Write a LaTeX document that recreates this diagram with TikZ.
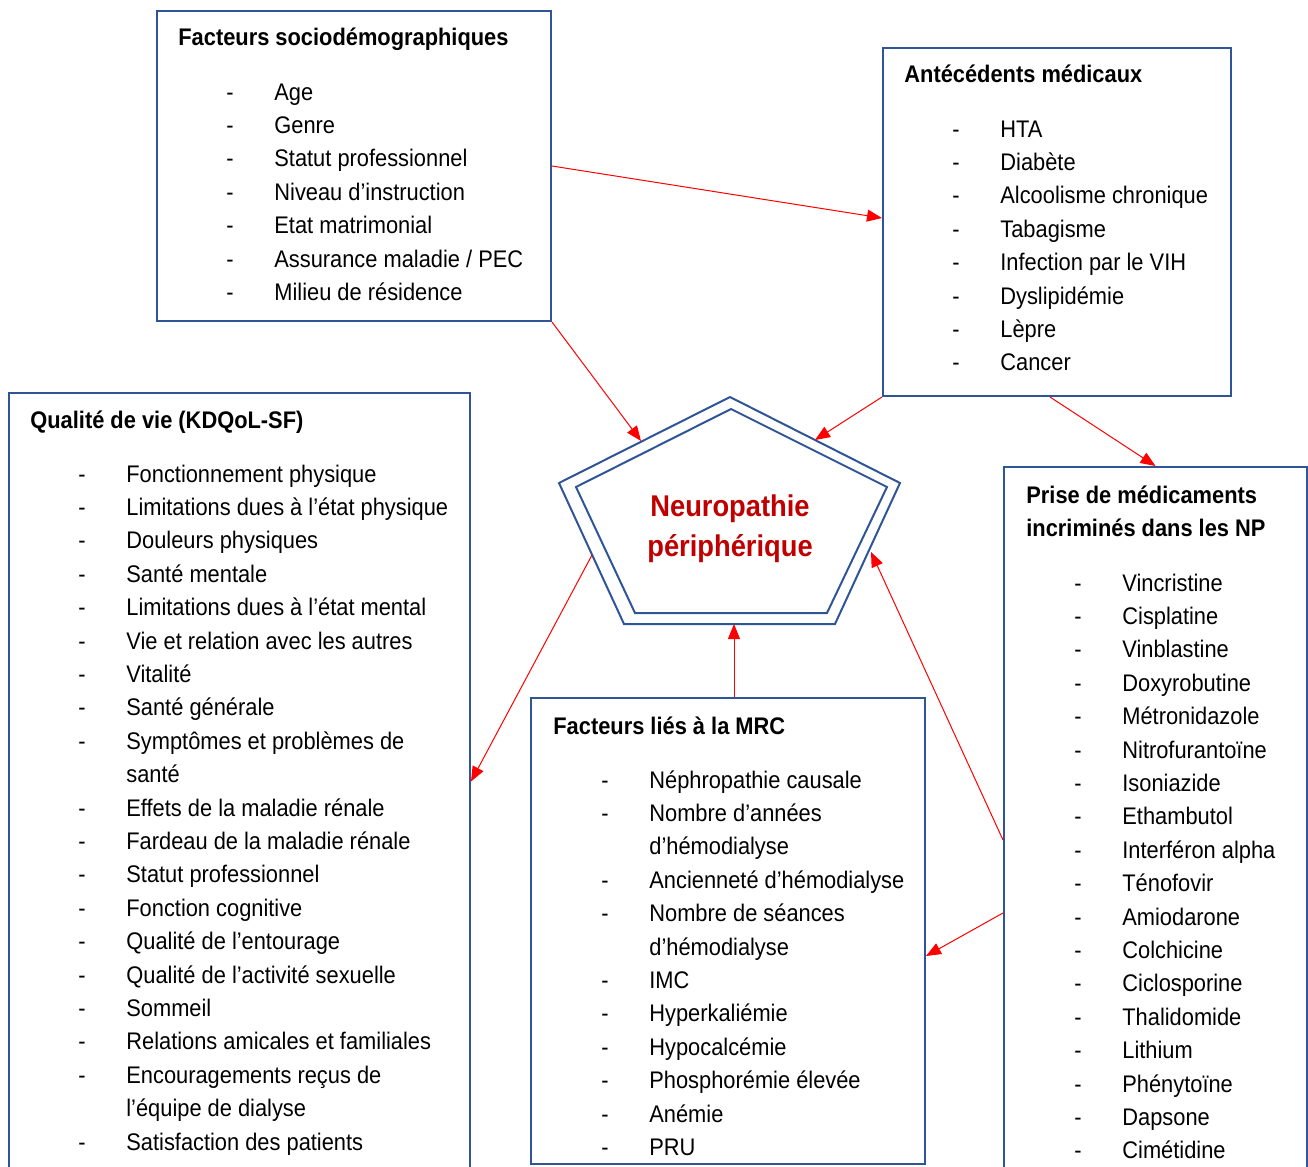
\documentclass[tikz,border=0pt]{standalone}
\usepackage{fontspec}
\setmainfont{Liberation Sans}[FakeStretch=0.91]
\usetikzlibrary{arrows.meta,fit,calc}
\definecolor{boxblue}{RGB}{47,85,151}
\definecolor{titlered}{RGB}{192,0,0}

\begin{document}
\begin{tikzpicture}[x=0.5pt, y=-0.5pt,
  box/.style={draw=boxblue, line width=1pt, inner sep=0pt},
  arr/.style={draw=red, line width=0.5pt, -{Triangle[length=7.5pt,width=6pt]}},
  item/.style={anchor=base west, inner sep=0pt, font=\fontsize{12}{16.7}\selectfont},
  head/.style={anchor=base west, inner sep=0pt, font=\bfseries\fontsize{12}{16.7}\selectfont}]

\useasboundingbox (0,0) rectangle (1308,1167);
\clip (0,0) rectangle (1308,1167);

% Draw the five boxes
\node[box, fit={(157,11) (551,321)}] (socio) {};
\node[box, fit={(883,48) (1231,396)}] (ante) {};
\node[box, fit={(9,393) (470,1170)}] (qual) {};
\node[box, fit={(531,698) (925,1164)}] (mrc) {};
\node[box, fit={(1004,467) (1307,1213)}] (medic) {};

% Box titles
\node[head] (socio-title) at (178,46) {Facteurs sociodémographiques};
\node[head] (ante-title) at (904,83) {Antécédents médicaux};
\node[head] (qual-title) at (30,428) {Qualité de vie (KDQoL-SF)};
\node[head] (mrc-title) at (553,734) {Facteurs liés à la MRC};
\node[head, anchor=west, align=left] (medic-title) at (1026,511.5) {Prise de médicaments\\incriminés dans les NP};

% Lists of factors
\foreach \dsh/\txt [count=\i] in {-/Age, -/Genre, -/Statut professionnel, -/Niveau d’instruction,
    -/Etat matrimonial, -/{Assurance maladie / PEC}, -/Milieu de résidence}
  \node[item] (socio-\i) at (226,{100+33.4*(\i-1)}) {\makebox[24pt][l]{\dsh}\txt};

\foreach \dsh/\txt [count=\i] in {-/HTA, -/Diabète, -/Alcoolisme chronique, -/Tabagisme,
    -/Infection par le VIH, -/Dyslipidémie, -/Lèpre, -/Cancer}
  \node[item] (ante-\i) at (952,{137+33.4*(\i-1)}) {\makebox[24pt][l]{\dsh}\txt};

\foreach \dsh/\txt [count=\i] in {-/Fonctionnement physique, -/Limitations dues à l’état physique,
    -/Douleurs physiques, -/Santé mentale, -/Limitations dues à l’état mental,
    -/Vie et relation avec les autres, -/Vitalité, -/Santé générale,
    -/Symptômes et problèmes de, {}/santé, -/Effets de la maladie rénale,
    -/Fardeau de la maladie rénale, -/Statut professionnel, -/Fonction cognitive,
    -/Qualité de l’entourage, -/Qualité de l’activité sexuelle, -/Sommeil,
    -/Relations amicales et familiales, -/Encouragements reçus de,
    {}/l’équipe de dialyse, -/Satisfaction des patients}
  \node[item] (qual-\i) at (78,{482+33.4*(\i-1)}) {\makebox[24pt][l]{\dsh}\txt};

\foreach \dsh/\txt [count=\i] in {-/Néphropathie causale, -/Nombre d’années, {}/d’hémodialyse,
    -/Ancienneté d’hémodialyse, -/Nombre de séances, {}/d’hémodialyse, -/IMC,
    -/Hyperkaliémie, -/Hypocalcémie, -/Phosphorémie élevée, -/Anémie, -/PRU}
  \node[item] (mrc-\i) at (601,{788+33.4*(\i-1)}) {\makebox[24pt][l]{\dsh}\txt};

\foreach \dsh/\txt [count=\i] in {-/Vincristine, -/Cisplatine, -/Vinblastine, -/Doxyrobutine,
    -/Métronidazole, -/Nitrofurantoïne, -/Isoniazide, -/Ethambutol, -/Interféron alpha,
    -/Ténofovir, -/Amiodarone, -/Colchicine, -/Ciclosporine, -/Thalidomide, -/Lithium,
    -/Phénytoïne, -/Dapsone, -/Cimétidine}
  \node[item] (medic-\i) at (1074,{591+33.4*(\i-1)}) {\makebox[24pt][l]{\dsh}\txt};

% Draw the double pentagon in the middle
\coordinate (po1) at (730,397);
\coordinate (po2) at (900,483);
\coordinate (po3) at (835,624);
\coordinate (po4) at (624,624);
\coordinate (po5) at (559,483);
\draw[boxblue, line width=1pt] (po1) -- (po2) -- (po3) -- (po4) -- (po5) -- cycle;
\draw[boxblue, line width=1pt] (731,409) -- (887,487) -- (827,613) -- (635,613) -- (576,487) -- cycle;
\node[align=center, text=titlered, font=\bfseries\fontsize{15}{20}\selectfont] (np) at (730,529) {Neuropathie\\périphérique};

% Points where the arrows meet the pentagon
\coordinate (p1) at (641,441);
\coordinate (p2) at (815,440);
\coordinate (p3) at (871,552);
\coordinate (p4) at (734,624);
\coordinate (p5) at (592,555);

% Arrows
\draw[arr] (socio.south east) -- (p1);
\draw[arr] (socio.east) -- ($(ante.west)+(0,-4)$);
\draw[arr] (ante.south west) -- (p2);
\draw[arr] ($(ante.south)+(-7,0)$) -- (medic.north);
\draw[arr] (medic.west) -- (p3);
\draw[arr] ($(medic.west)+(0,73)$) -- ($(mrc.east)+(0,25)$);
\draw[arr] ($(mrc.north)+(6,0)$) -- (p4);
\draw[arr] (p5) -- (qual.east);
\end{tikzpicture}
\end{document}
